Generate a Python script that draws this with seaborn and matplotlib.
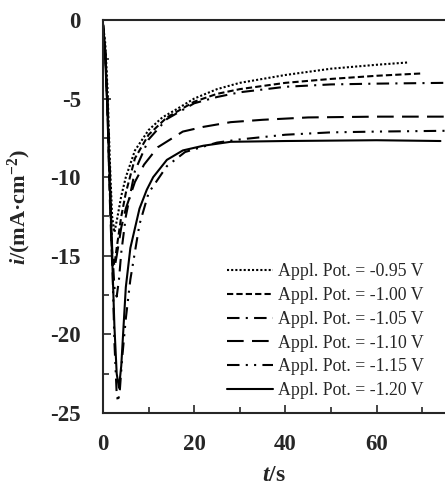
"""Chronoamperometry transients at several applied potentials."""

import matplotlib

matplotlib.use("Agg")
import matplotlib.pyplot as plt
import pandas as pd
import seaborn as sns
from matplotlib.ticker import MultipleLocator

# Values
labels = [
    "Appl. Pot. = -0.95 V",
    "Appl. Pot. = -1.00 V",
    "Appl. Pot. = -1.05 V",
    "Appl. Pot. = -1.10 V",
    "Appl. Pot. = -1.15 V",
    "Appl. Pot. = -1.20 V",
]

t_095 = [0, 0.5, 1, 1.5, 2, 2.5, 3, 4, 5, 7, 10, 13, 16, 20, 25, 30, 40, 50, 60, 67]
i_095 = [-0.3, -1.5, -4.5, -9, -12.5, -13.5, -12.8, -11.2, -10, -8.3, -7.0, -6.2,
         -5.7, -5.0, -4.4, -4.0, -3.5, -3.1, -2.85, -2.7]

t_100 = [0, 0.5, 1, 1.5, 2, 2.5, 3, 4, 5, 7, 10, 14, 20, 25, 30, 40, 50, 60, 70]
i_100 = [-0.3, -2, -6, -11, -15, -15.6, -14.5, -12.5, -11, -8.8, -7.3, -6.2, -5.2,
         -4.7, -4.4, -4.0, -3.75, -3.55, -3.4]

t_105 = [0, 0.5, 1, 1.5, 2, 2.5, 3, 3.5, 4, 5, 7, 10, 14, 20, 25, 30, 40, 50, 60, 75]
i_105 = [-0.3, -2, -5.5, -10, -14.5, -17, -17.6, -16.5, -14.8, -12.5, -9.6, -7.6,
         -6.3, -5.3, -4.9, -4.6, -4.25, -4.1, -4.05, -4.0]

t_110 = [0, 0.5, 1, 1.5, 2, 2.5, 3, 4, 5, 7, 9, 12, 17.5, 22, 28, 35, 45, 60, 75]
i_110 = [-0.3, -2, -6, -11.5, -15.5, -15.8, -15, -13.2, -12, -10.3, -9.2, -8.1,
         -7.1, -6.8, -6.5, -6.35, -6.2, -6.15, -6.15]

t_115 = [0, 0.5, 1, 1.5, 2, 2.5, 3, 3.3, 3.7, 4.2, 5, 6, 8, 10, 14, 18, 25, 30,
         40, 50, 60, 75]
i_115 = [-0.3, -2, -5, -9.5, -15, -20.5, -23.8, -24.3, -23.5, -21.5, -19, -16.5,
         -13, -11, -9.3, -8.4, -7.8, -7.6, -7.3, -7.15, -7.1, -7.05]

t_120 = [0, 0.5, 1, 1.5, 2, 2.5, 3, 3.5, 4, 4.5, 5, 6, 8, 9.6, 11, 14, 17.5, 22,
         28, 40, 60, 74]
i_120 = [-0.3, -2.5, -6, -10.5, -15, -19.5, -22.5, -23.4, -22, -19.5, -17, -14.5,
         -12, -10.8, -10, -8.9, -8.3, -8.0, -7.75, -7.7, -7.65, -7.7]

series = [
    (t_095, i_095),
    (t_100, i_100),
    (t_105, i_105),
    (t_110, i_110),
    (t_115, i_115),
    (t_120, i_120),
]

dashes = {
    labels[0]: (1, 1),
    labels[1]: (3, 1.5),
    labels[2]: (6, 3, 1, 3),
    labels[3]: (8, 4),
    labels[4]: (6, 3, 1, 3, 1, 3),
    labels[5]: "",
}

frames = []
for label, (t, i) in zip(labels, series):
    frames.append(pd.DataFrame({"t": t, "i": i, "label": label}))
df = pd.concat(frames, ignore_index=True)

sns.set_style("ticks")
plt.rcParams["font.family"] = ["Liberation Serif", "DejaVu Serif"]
plt.rcParams["axes.unicode_minus"] = False
plt.rcParams["mathtext.fontset"] = "custom"
plt.rcParams["mathtext.rm"] = "Liberation Serif:bold"
plt.rcParams["mathtext.it"] = "Liberation Serif:bold:italic"

fig = plt.figure(figsize=(4.45, 4.87), dpi=100)
ax = fig.add_axes([0.2315, 0.152, 0.7685, 0.807])

sns.lineplot(
    data=df,
    x="t",
    y="i",
    style="label",
    dashes=dashes,
    color="black",
    linewidth=1.5,
    estimator=None,
    sort=False,
    ax=ax,
)

ax.set_xlim(0, 75)
ax.set_ylim(-25, 0)
ax.xaxis.set_major_locator(MultipleLocator(20))
ax.xaxis.set_minor_locator(MultipleLocator(10))
ax.yaxis.set_major_locator(MultipleLocator(5))
ax.yaxis.set_minor_locator(MultipleLocator(2.5))
ax.tick_params(which="both", direction="in", width=1.2)
ax.tick_params(which="major", length=6, labelsize=16.5)
ax.tick_params(axis="x", which="major", pad=15)
ax.tick_params(axis="y", which="major", pad=16)
ax.tick_params(which="minor", length=4)
for lab in ax.get_xticklabels() + ax.get_yticklabels():
    lab.set_fontweight("bold")

for side in ["left", "bottom", "top"]:
    ax.spines[side].set_linewidth(1.5)
ax.spines["right"].set_visible(False)

ax.set_xlabel(r"$\it{t}$/s", fontsize=17, fontweight="bold", labelpad=7)
ax.set_ylabel(r"$\it{i}$/(mA·cm$^{\rm{-2}}$)", fontsize=16, fontweight="bold")
ax.yaxis.set_label_coords(-0.205, 0.524)

handles, leg_labels = ax.get_legend_handles_labels()
ax.legend(
    handles,
    leg_labels,
    loc="lower right",
    bbox_to_anchor=(0.94, 0.035),
    frameon=False,
    fontsize=12.8,
    handlelength=2.6,
    handletextpad=0.3,
    labelspacing=0.38,
    borderaxespad=0,
    borderpad=0,
)

fig.savefig("out.png", dpi=100)
